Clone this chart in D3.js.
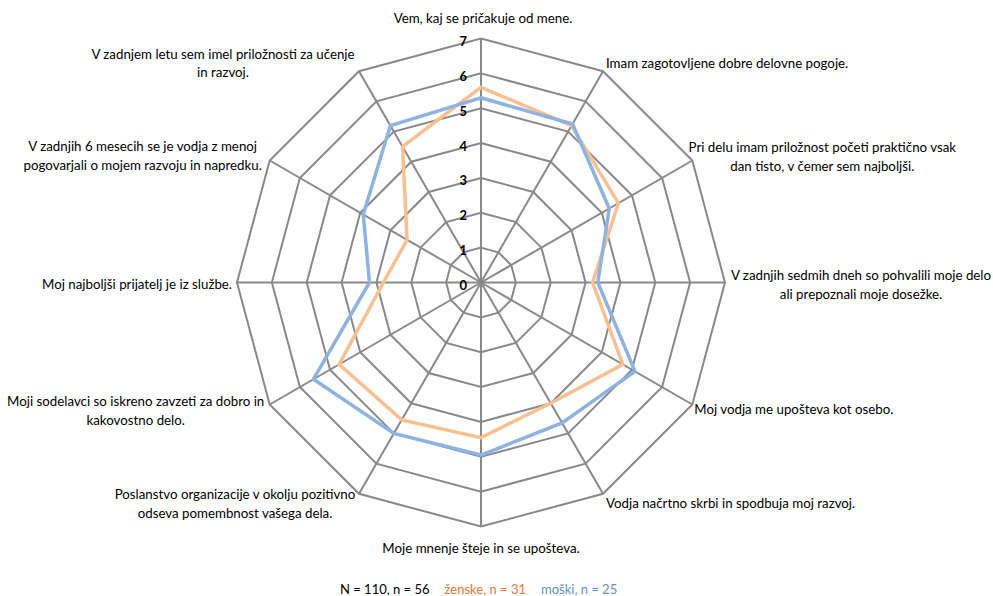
<!DOCTYPE html>
<html>
<head>
<meta charset="utf-8">
<script src="https://cdn.jsdelivr.net/npm/d3@7"></script>
<style>
  html, body { margin: 0; padding: 0; background: #ffffff; }
  svg { display: block; font-family: Lato, "Open Sans", sans-serif; }
</style>
</head>
<body>
<svg id="chart" width="993" height="596"></svg>
<script>
// Survey statements (one spoke each, clockwise from the top)
const categories = [
  ["Vem, kaj se pričakuje od mene."],
  ["Imam zagotovljene dobre delovne pogoje."],
  ["Pri delu imam priložnost početi praktično vsak", "dan tisto, v čemer sem najboljši."],
  ["V zadnjih sedmih dneh so pohvalili moje delo", "ali prepoznali moje dosežke."],
  ["Moj vodja me upošteva kot osebo."],
  ["Vodja načrtno skrbi in spodbuja moj razvoj."],
  ["Moje mnenje šteje in se upošteva."],
  ["Poslanstvo organizacije v okolju pozitivno", "odseva pomembnost vašega dela."],
  ["Moji sodelavci so iskreno zavzeti za dobro in", "kakovostno delo."],
  ["Moj najboljši prijatelj je iz službe."],
  ["V zadnjih 6 mesecih se je vodja z menoj", "pogovarjali o mojem razvoju in napredku."],
  ["V zadnjem letu sem imel priložnosti za učenje", "in razvoj."]
];

// Average scores per statement
const zenske = [5.6, 5.2, 4.55, 3.2, 4.7, 4.0, 4.45, 4.55, 4.7, 2.8, 2.45, 4.5];
const moski  = [5.3, 5.25, 4.25, 3.35, 5.1, 4.65, 4.95, 5.0, 5.55, 3.2, 3.9, 5.2];

// Radial tick labels
const ticks = [0, 1, 2, 3, 4, 5, 6, 7];

// Footer legend pieces
const legendItems = [
  { text: "N = 110, n = 56", color: "#000000" },
  { text: "ženske, n = 31", color: "#E8772E" },
  { text: "moški, n = 25", color: "#5E8FCF" }
];

const svg = d3.select("#chart");
const cx = 481, cy = 282.5, R = 244;
const n = categories.length;

const r = d3.scaleLinear().domain([0, 7]).range([0, R]);
const angle = i => i * 2 * Math.PI / n;
const pt = (i, rad) => [cx + rad * Math.sin(angle(i)), cy - rad * Math.cos(angle(i))];

const g = svg.append("g");

// Grid rings (12-gons)
const ring = d3.lineRadial()
  .angle((d, i) => angle(i))
  .radius(d => d)
  .curve(d3.curveLinearClosed);

g.append("g").attr("transform", `translate(${cx},${cy})`)
  .selectAll("path")
  .data(ticks.filter(t => t > 0))
  .join("path")
  .attr("d", t => ring(d3.range(n).map(() => r(t))))
  .attr("fill", "none")
  .attr("stroke", "#898989")
  .attr("stroke-width", 2);

// Spokes
g.append("g").selectAll("line")
  .data(d3.range(n))
  .join("line")
  .attr("x1", cx).attr("y1", cy)
  .attr("x2", i => pt(i, r(7))[0])
  .attr("y2", i => pt(i, r(7))[1])
  .attr("stroke", "#898989")
  .attr("stroke-width", 2);

// Tick labels along the top spoke
g.append("g").selectAll("text")
  .data(ticks)
  .join("text")
  .attr("x", cx - 14)
  .attr("y", t => cy - r(t) + 3)
  .attr("dy", "0.35em")
  .attr("text-anchor", "end")
  .attr("font-size", 13)
  .attr("font-weight", "bold")
  .attr("fill", "#000")
  .text(t => t);

// Data series
const series = [
  { values: zenske, color: "#FAC08F" },
  { values: moski,  color: "#8DB3E2" }
];
const radar = d3.lineRadial()
  .angle((d, i) => angle(i))
  .radius(d => r(d))
  .curve(d3.curveLinearClosed);

g.append("g").attr("transform", `translate(${cx},${cy})`)
  .selectAll("path")
  .data(series)
  .join("path")
  .attr("d", s => radar(s.values))
  .attr("fill", "none")
  .attr("stroke", s => s.color)
  .attr("stroke-width", 3.5)
  .attr("stroke-linejoin", "miter");

// Category label placement: offset from the outer vertex and text anchor
const labelLayout = [
  { dx: 2,    dy: -20, anchor: "middle" },
  { dx: 3,    dy: -8,  anchor: "start" },
  { dx: 130,  dy: -13, anchor: "middle" },
  { dx: 136,  dy: -7,  anchor: "middle" },
  { dx: 2,    dy: 5,   anchor: "start" },
  { dx: 3,    dy: 10,  anchor: "start" },
  { dx: 0,    dy: 22,  anchor: "middle" },
  { dx: -124, dy: 1,   anchor: "middle" },
  { dx: -134, dy: -3,  anchor: "middle" },
  { dx: -5,   dy: 2,   anchor: "end" },
  { dx: -127, dy: -14, anchor: "middle" },
  { dx: -136, dy: -17, anchor: "middle" }
];

const labels = g.append("g").selectAll("text")
  .data(categories)
  .join("text")
  .attr("x", (d, i) => pt(i, r(7))[0] + labelLayout[i].dx)
  .attr("y", (d, i) => pt(i, r(7))[1] + labelLayout[i].dy)
  .attr("text-anchor", (d, i) => labelLayout[i].anchor)
  .attr("font-size", 13.3)
  .attr("fill", "#000");

labels.each(function (lines, i) {
  const t = d3.select(this);
  const x = t.attr("x");
  lines.forEach((line, k) => {
    t.append("tspan")
      .attr("x", x)
      .attr("dy", k === 0 ? "0.35em" : 18.5)
      .text(line);
  });
});

// Footer legend
const footer = svg.append("text")
  .attr("x", 340)
  .attr("y", 589)
  .attr("dy", "0.35em")
  .attr("font-size", 13);
legendItems.forEach((item, k) => {
  footer.append("tspan")
    .attr("fill", item.color)
    .attr("dx", k === 0 ? 0 : 15)
    .text(item.text);
});
</script>
</body>
</html>
